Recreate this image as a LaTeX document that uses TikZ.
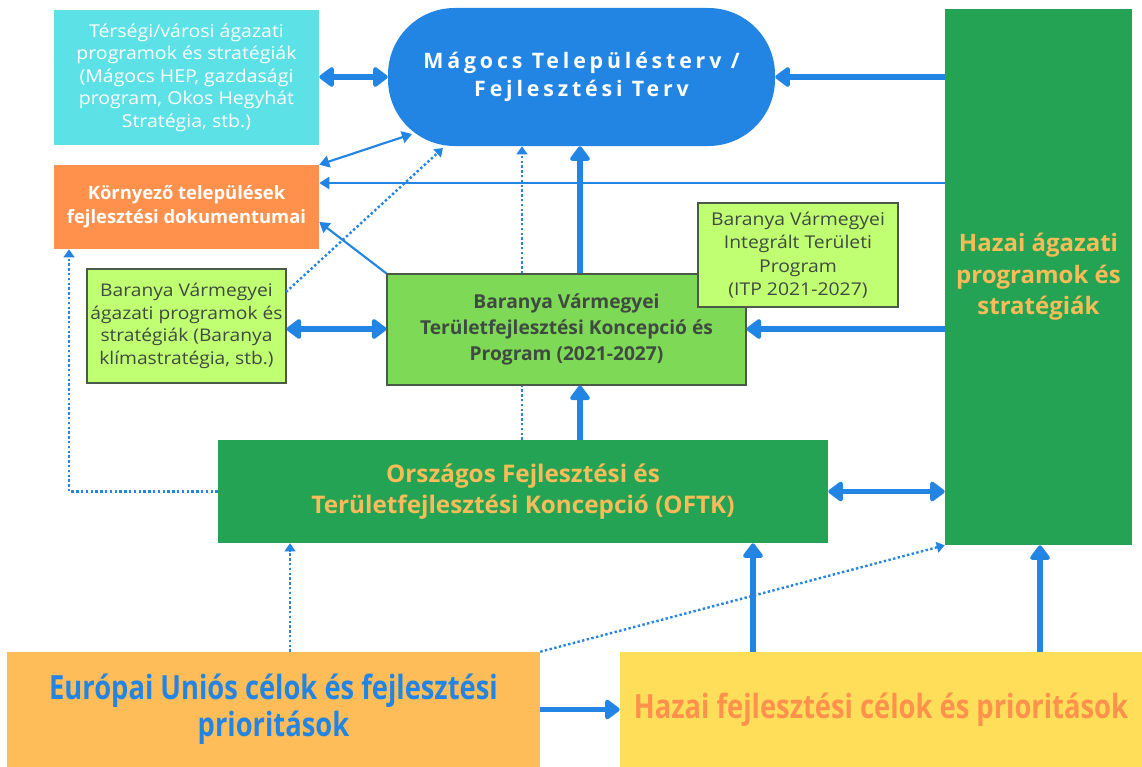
\documentclass[tikz,border=0pt]{standalone}
\usepackage{fontspec}
\setmainfont{Open Sans}
\newfontfamily\widefont[FakeStretch=1.1]{Open Sans}
\newfontfamily\condfont[FakeStretch=0.82]{Open Sans}
\newfontfamily\spacedfont[LetterSpace=18]{Open Sans}
\usetikzlibrary{arrows.meta}
\definecolor{arrowblue}{HTML}{2385E3}
\definecolor{cyanc}{HTML}{5CE1E6}
\definecolor{orangec}{HTML}{FF914D}
\definecolor{dkgreen}{HTML}{24A354}
\definecolor{txtorange}{HTML}{F9BC58}
\definecolor{ltgreen}{HTML}{C1FF72}
\definecolor{midgreen}{HTML}{7ED957}
\definecolor{txtgray}{HTML}{3F4A40}
\definecolor{eufill}{HTML}{FFBD59}
\definecolor{hffill}{HTML}{FFDE59}
\definecolor{boxline}{HTML}{4A5A48}
\tikzset{
  box/.style={inner sep=0pt, align=center, text=white},
  sz/.style 2 args={minimum width=#1*0.75pt, minimum height=#2*0.75pt},
  outlined/.style={draw=boxline, line width=0.8pt},
  thickarrow/.style={draw=arrowblue, line width=3.8pt, -{Triangle[round,length=12pt,width=17pt]}},
  thickdbl/.style={draw=arrowblue, line width=3.8pt, {Triangle[round,length=12pt,width=17pt]}-{Triangle[round,length=12pt,width=17pt]}},
  thinarrow/.style={draw=arrowblue, line width=1.6pt, -{Triangle[length=7.5pt,width=9pt]}},
  thindbl/.style={draw=arrowblue, line width=1.6pt, {Triangle[length=7.5pt,width=9pt]}-{Triangle[length=7.5pt,width=9pt]}},
  dotarrow/.style={draw=arrowblue, line width=1.8pt, dash pattern=on 1.8pt off 1.8pt, -{Triangle[length=6pt,width=8pt]}},
  dotline/.style={draw=arrowblue, line width=1.8pt, dash pattern=on 1.8pt off 1.8pt}
}
\begin{document}
\begin{tikzpicture}[x=0.75pt,y=-0.75pt]
\useasboundingbox[fill=white] (0,0) rectangle (1142,767);
% helper coordinates
\coordinate (x69) at (69,0);
\coordinate (x290) at (290,0);
\coordinate (x522) at (522,0);
\coordinate (x580) at (580,0);
\coordinate (x753) at (753,0);
\coordinate (x1040) at (1040,0);
\coordinate (y183) at (0,183);
\coordinate (y222) at (0,222);
\coordinate (y329) at (0,329);
\coordinate (pillsw) at (412,134);
\coordinate (d6a) at (286,292);
\coordinate (d6b) at (443,148);

% nodes
\node[box, fill=cyanc, sz={265}{135}, font=\widefont\fontsize{13.3}{16.9}\selectfont] (cyan) at (186.5,77.5)
  {Térségi/városi ágazati\\programok és stratégiák\\(Mágocs HEP, gazdasági\\program, Okos Hegyhát\\Stratégia, stb.)};
\node[box, fill=orangec, sz={265}{84}, font=\bfseries\fontsize{13.8}{18}\selectfont] (orange) at (186.5,207)
  {Környező települések\\fejlesztési dokumentumai};
\node[box, fill=arrowblue, rounded corners=50pt, sz={387}{138}, font=\spacedfont\bfseries\fontsize{16}{20.5}\selectfont] (pill) at (581.5,77)
  {Mágocs Településterv /\\Fejlesztési Terv};
\node[box, fill=dkgreen, text=txtorange, sz={187}{536}, font=\bfseries\fontsize{18}{23.5}\selectfont] (hazag) at (1038.5,277)
  {Hazai ágazati\\programok és\\stratégiák};
\node[box, outlined, fill=ltgreen, text=txtgray, sz={199}{114}, font=\widefont\fontsize{13.1}{16.9}\selectfont] (light1) at (186.5,326)
  {Baranya Vármegyei\\ágazati programok és\\stratégiák (Baranya\\klímastratégia, stb.)};
\node[box, outlined, fill=midgreen, text=txtgray, sz={359}{111}, font=\bfseries\fontsize{14.4}{19.5}\selectfont] (mid) at (566.5,329.5)
  {Baranya Vármegyei\\Területfejlesztési Koncepció és\\Program (2021-2027)};
\node[box, outlined, fill=ltgreen, text=txtgray, sz={200}{104}, font=\widefont\fontsize{13.2}{17.5}\selectfont] (itp) at (798,255)
  {Baranya Vármegyei\\Integrált Területi\\Program\\(ITP 2021-2027)};
\node[box, fill=dkgreen, text=txtorange, sz={610}{103}, font=\bfseries\fontsize{18.2}{23}\selectfont] (oftk) at (523,491.5)
  {Országos Fejlesztési és\\Területfejlesztési Koncepció (OFTK)};
\node[box, fill=eufill, text=arrowblue, sz={533}{115}, font=\condfont\bfseries\fontsize{25}{28}\selectfont] (eu) at (273.5,709.5)
  {Európai Uniós célok és fejlesztési\\prioritások};
\node[box, fill=hffill, text=orangec, sz={522}{115}, font=\condfont\bfseries\fontsize{25}{28}\selectfont] (hf) at (881,709.5)
  {Hazai fejlesztési célok és prioritások};

% connectors
\draw[thickdbl] (cyan.east |- pill.west) -- (pill.west);
\draw[thickarrow] (hazag.west |- pill.east) -- (pill.east);
\draw[thindbl] (orange.north east) -- (pillsw);
\draw[thinarrow] (hazag.west |- y183) -- (orange.east |- y183);
\draw[thinarrow] (mid.north west) -- (orange.east |- y222);
\draw[dotarrow] (d6a) -- (d6b);
\draw[dotarrow] (mid.north -| x522) -- (pill.south -| x522);
\draw[thickarrow] (mid.north -| x580) -- (pill.south -| x580);
\draw[thickdbl] (light1.east |- y329) -- (mid.west |- y329);
\draw[thickarrow] (hazag.west |- y329) -- (mid.east |- y329);
\draw[thickarrow] (oftk.north -| x580) -- (mid.south -| x580);
\draw[dotline] (oftk.north -| x522) -- (mid.south -| x522);
\draw[dotarrow] (oftk.west) -| (orange.south -| x69);
\draw[thickdbl] (oftk.east) -- (hazag.west |- oftk.east);
\draw[dotarrow] (eu.north -| x290) -- (oftk.south -| x290);
\draw[dotarrow] (eu.north east) -- (hazag.south west);
\draw[thickarrow] (hf.north -| x753) -- (oftk.south -| x753);
\draw[thickarrow] (hf.north -| x1040) -- (hazag.south -| x1040);
\draw[thickarrow] (eu.east) -- (hf.west);
\end{tikzpicture}
\end{document}
